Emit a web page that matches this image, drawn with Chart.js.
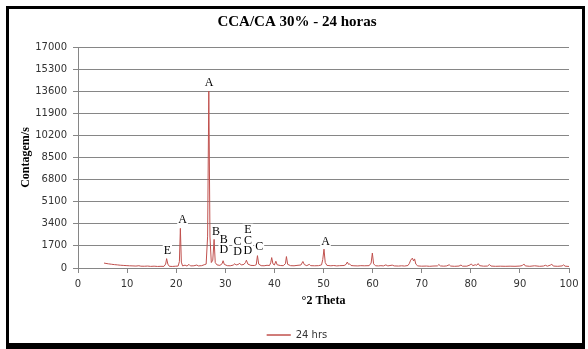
<!DOCTYPE html>
<html>
<head>
<meta charset="utf-8">
<script src="https://cdn.jsdelivr.net/npm/chart.js@4.4.1/dist/chart.umd.min.js"></script>
<style>
  html, body { margin: 0; padding: 0; background: #fff; overflow: hidden; }
  #wrap { position: relative; width: 588px; height: 349px; overflow: hidden; }
  #xrd { position: absolute; left: 0; top: 0; }
  #frame { position: absolute; left: 6px; top: 6px; width: 573px; height: 334px;
           border: 3px solid #000; border-bottom-width: 6px; pointer-events: none; }
</style>
</head>
<body>
<div id="wrap">
  <canvas id="xrd" width="588" height="360"></canvas>
  <div id="frame"></div>
</div>
<script>
'use strict';

// ============================================================
// DATA
// ============================================================
const chartTitle = 'CCA/CA 30% - 24 horas';
const seriesName = '24 hrs';

const theta = [
  5.3, 5.7, 6.2, 6.8, 7.4, 8.0, 8.6, 9.2, 9.8, 10.5, 11.2, 11.8, 12.4, 12.8, 13.5, 14.2, 14.8, 15.5, 16.2, 16.9,
  17.5, 17.85, 18.05, 18.3, 18.6, 19.2, 19.8, 20.4, 20.65, 20.85, 21.05, 21.3, 21.8, 22.2, 22.6, 22.9, 23.6, 24.2, 24.5, 25.2,
  25.7, 26.1, 26.4, 26.64, 26.88, 27.15, 27.45, 27.72, 27.95, 28.3, 28.9, 29.35, 29.55, 29.8, 30.4, 31.0, 31.6, 31.95, 32.2, 32.6,
  32.95, 33.25, 33.8, 34.1, 34.3, 34.6, 35.2, 35.9, 36.3, 36.55, 36.8, 37.3, 37.9, 38.5, 39.0, 39.25, 39.45, 39.7, 40.0, 40.3,
  40.55, 41.2, 41.8, 42.25, 42.45, 42.7, 43.3, 44.0, 44.6, 45.4, 45.8, 46.1, 46.6, 47.1, 47.4, 48.2, 49.0, 49.6, 49.85, 50.1,
  50.35, 50.7, 51.5, 52.1, 52.7, 53.3, 54.2, 54.6, 54.85, 55.1, 55.3, 55.6, 56.2, 57.0, 57.6, 58.3, 59.3, 59.7, 59.95, 60.2,
  60.6, 61.2, 61.7, 62.2, 62.7, 63.1, 64.0, 64.4, 65.3, 65.9, 66.5, 67.2, 67.5, 67.75, 68.1, 68.35, 68.55, 68.8, 69.2, 70.0,
  71.0, 71.6, 72.3, 73.2, 73.5, 73.8, 74.5, 75.1, 75.6, 75.9, 76.7, 77.6, 78.0, 78.3, 79.2, 79.9, 80.1, 80.4, 80.9, 81.2,
  81.5, 81.8, 82.6, 83.4, 83.8, 84.1, 85.0, 86.0, 87.0, 88.0, 89.0, 90.0, 90.5, 90.8, 91.1, 92.0, 93.0, 94.0, 94.8, 95.2,
  95.6, 96.2, 96.5, 96.8, 97.7, 98.6, 98.9, 99.2, 100.0
];
const counts = [
  380, 350, 320, 290, 260, 240, 215, 200, 185, 170, 160, 150, 175, 140, 135, 150, 125, 140, 120, 130,
  125, 300, 720, 300, 130, 120, 135, 150, 500, 3050, 450, 160, 220, 150, 280, 160, 170, 230, 160, 180,
  250, 300, 2450, 13600, 2380, 420, 600, 2200, 420, 240, 200, 330, 560, 280, 180, 170, 220, 330, 230, 270,
  360, 230, 280, 420, 600, 300, 200, 190, 250, 950, 300, 180, 170, 210, 190, 400, 800, 320, 230, 520,
  250, 190, 180, 330, 880, 280, 180, 170, 200, 230, 500, 260, 180, 280, 180, 170, 180, 240, 650, 1450,
  420, 200, 170, 190, 160, 180, 190, 280, 460, 280, 320, 190, 170, 160, 180, 170, 180, 380, 1150, 320,
  170, 160, 180, 160, 240, 160, 220, 160, 150, 170, 150, 190, 360, 600, 760, 540, 700, 300, 160, 140,
  150, 130, 150, 160, 270, 160, 140, 160, 250, 150, 130, 150, 230, 140, 140, 240, 320, 180, 250, 210,
  340, 180, 140, 150, 270, 150, 130, 140, 130, 140, 130, 150, 190, 310, 160, 130, 170, 130, 150, 210,
  140, 220, 290, 150, 130, 160, 240, 140, 120
];

const yTicks = [0, 1700, 3400, 5100, 6800, 8500, 10200, 11900, 13600, 15300, 17000];
const xTicks = [0, 10, 20, 30, 40, 50, 60, 70, 80, 90, 100];

// phase letters over the peaks (bottom line sits at the given theta / count)
const peakText  = ['E', 'A', 'A', 'B', 'B\nD', 'C\nD', 'E\nC\nD', 'C', 'A'];
const peakTheta = [18.2, 21.3, 26.7, 28.1, 29.7, 32.5, 34.6, 36.9, 50.4];
const peakCount = [1300, 3690, 14230, 2770, 1380, 1230, 1310, 1615, 2000];

// ============================================================
// CHART
// ============================================================
const GRID = '#868686';
const INK  = '#333333';
const RED  = '#C0504D';

const peakLabels = {
  id: 'peakLabels',
  beforeDatasetsDraw(chart) {
    const { ctx, scales: { x, y } } = chart;
    const lineH = 10.5;
    ctx.save();
    ctx.font = '12px "Liberation Serif", "Times New Roman", serif';
    ctx.textAlign = 'center';
    ctx.textBaseline = 'middle';
    peakText.forEach((txt, i) => {
      const lines = txt.split('\n');
      const px = x.getPixelForValue(peakTheta[i]);
      const py = y.getPixelForValue(peakCount[i]);
      const w = Math.max(...lines.map(l => ctx.measureText(l).width)) + 2;
      ctx.fillStyle = '#fff';
      ctx.fillRect(px - w / 2, py - (lines.length - 0.5) * lineH - 1, w, lines.length * lineH + 2);
      ctx.fillStyle = '#000';
      lines.forEach((l, k) => ctx.fillText(l, px, py - (lines.length - 1 - k) * lineH));
    });
    ctx.restore();
  }
};

new Chart(document.getElementById('xrd'), {
  type: 'line',
  data: {
    datasets: [{
      label: seriesName,
      data: theta.map((t, i) => ({ x: t, y: counts[i] })),
      borderColor: RED,
      backgroundColor: RED,
      borderWidth: 1,
      pointRadius: 0,
      tension: 0,
    }]
  },
  options: {
    responsive: false,
    animation: false,
    devicePixelRatio: 1,
    layout: { padding: { left: 25, right: 19, top: 0, bottom: 10 } },
    plugins: {
      title: {
        display: true, text: chartTitle, color: '#000',
        font: { family: '"Liberation Serif", "Times New Roman", serif', size: 15, weight: 'bold', lineHeight: 1.2 },
        padding: { top: 13, bottom: 16 }
      },
      legend: {
        position: 'bottom',
        labels: { boxWidth: 24, boxHeight: 0, padding: 22, color: INK,
                  font: { family: '"DejaVu Sans", sans-serif', size: 10 } }
      },
      tooltip: { enabled: false }
    },
    scales: {
      x: {
        type: 'linear', min: 0, max: 100,
        afterBuildTicks: s => { s.ticks = xTicks.map(v => ({ value: v })); },
        afterFit: s => { s.height = 40; },
        ticks: { color: INK, padding: 5, maxRotation: 0, autoSkip: false,
                 font: { family: '"DejaVu Sans", sans-serif', size: 10 }, callback: v => String(v) },
        grid: { drawOnChartArea: false, drawTicks: true, tickLength: 5, color: GRID },
        border: { display: true, color: GRID },
        title: { display: true, text: '°2 Theta', color: '#000', padding: 0,
                 font: { family: '"Liberation Serif", "Times New Roman", serif', size: 12, weight: 'bold', lineHeight: 1.2 } }
      },
      y: {
        min: 0, max: 17000,
        afterBuildTicks: s => { s.ticks = yTicks.map(v => ({ value: v })); },
        afterFit: s => { s.width = 53; },
        ticks: { color: INK, padding: 6, autoSkip: false,
                 font: { family: '"DejaVu Sans", sans-serif', size: 10 }, callback: v => String(v) },
        grid: { color: GRID, tickLength: 5 },
        border: { display: true, color: GRID },
        title: { display: true, text: 'Contagem/s', color: '#000', padding: { top: -6, bottom: 0 },
                 font: { family: '"Liberation Serif", "Times New Roman", serif', size: 12, weight: 'bold', lineHeight: 1.2 } }
      }
    }
  },
  plugins: [peakLabels]
});
</script>
</body>
</html>
